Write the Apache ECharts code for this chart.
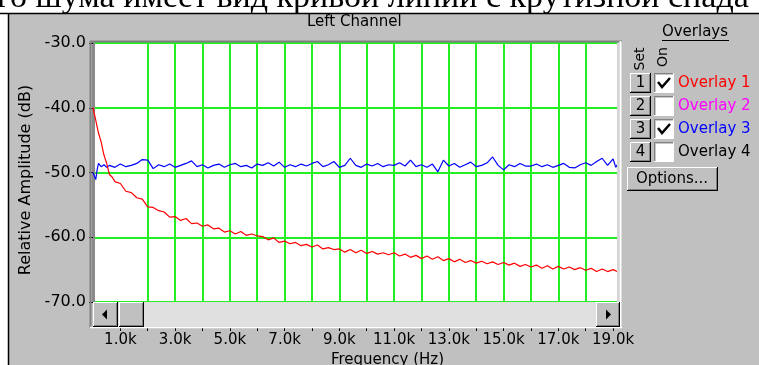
<!DOCTYPE html>
<html><head><meta charset="utf-8">
<script src="https://cdn.jsdelivr.net/npm/echarts@6/dist/echarts.min.js"></script>
<style>html,body{margin:0;padding:0;background:#fff}#c{width:759px;height:365px}</style>
</head><body><div id="c"></div>
<script>
// ---------- data ----------
const xLabelValues = [1, 3, 5, 7, 9, 11, 13, 15, 17, 19];
const xLabelTexts = ['1.0k', '3.0k', '5.0k', '7.0k', '9.0k', '11.0k', '13.0k', '15.0k', '17.0k', '19.0k'];
const xTickValues = [1, 2, 3, 4, 5, 6, 7, 8, 9, 10, 11, 12, 13, 14, 15, 16, 17, 18, 19];
const yTickValues = [-70, -60, -50, -40, -30];

const seriesNames = ['Overlay 1', 'Overlay 3'];
// Overlay 1 (red): [frequency kHz, dB]
const overlay1 = [
  [0, -40.0], [0.1, -41.9], [0.2, -43.9], [0.3, -45.3], [0.4, -47.3], [0.5, -48.6], [0.6, -50.3], [0.7, -50.7], [0.8, -51.4],
  [1.0, -51.7], [1.2, -52.9], [1.4, -53.1], [1.6, -53.9], [1.8, -54.1], [2.0, -55.3], [2.2, -55.4], [2.4, -55.9], [2.6, -56.1], [2.8, -56.9],
  [3.0, -56.8], [3.2, -57.4], [3.4, -57.1], [3.6, -57.9], [3.8, -57.8], [4.0, -58.3], [4.2, -58.1], [4.4, -58.7], [4.6, -58.6], [4.8, -59.2],
  [5.0, -59.0], [5.2, -59.5], [5.4, -59.1], [5.6, -59.7], [5.8, -59.5], [6.0, -59.8], [6.2, -59.9], [6.4, -60.4], [6.6, -60.1], [6.8, -60.8],
  [7.0, -60.6], [7.2, -61.0], [7.4, -60.8], [7.6, -61.3], [7.8, -61.1], [8.0, -61.5], [8.2, -61.2], [8.4, -61.8], [8.6, -61.6], [8.8, -61.9],
  [9.0, -61.8], [9.2, -62.3], [9.4, -61.9], [9.6, -62.4], [9.8, -62.0], [10.0, -62.5], [10.2, -62.2], [10.4, -62.6], [10.6, -62.4], [10.8, -62.7],
  [11.0, -62.4], [11.2, -62.9], [11.4, -62.6], [11.6, -63.1], [11.8, -62.8], [12.0, -63.3], [12.2, -62.9], [12.4, -63.4], [12.6, -63.0], [12.8, -63.6],
  [13.0, -63.3], [13.2, -63.8], [13.4, -63.4], [13.6, -63.9], [13.8, -63.6], [14.0, -64.0], [14.2, -63.7], [14.4, -64.1], [14.6, -63.8], [14.8, -64.2],
  [15.0, -63.9], [15.2, -64.3], [15.4, -64.0], [15.6, -64.5], [15.8, -64.2], [16.0, -64.6], [16.2, -64.3], [16.4, -64.8], [16.6, -64.4], [16.8, -64.9],
  [17.0, -64.5], [17.2, -64.9], [17.4, -64.6], [17.6, -65.0], [17.8, -64.7], [18.0, -65.1], [18.2, -64.8], [18.4, -65.3], [18.6, -64.9], [18.8, -65.3],
  [19.0, -65.0], [19.15, -65.3]
];
// Overlay 3 (blue): [frequency kHz, dB]
const overlay3 = [
  [0, -50.0], [0.05, -50.2], [0.1, -51.1], [0.15, -49.6], [0.2, -48.6], [0.3, -49.1], [0.4, -48.8], [0.5, -49.2],
  [0.6, -48.9], [0.8, -49.2], [1.0, -48.7], [1.2, -49.1], [1.4, -48.9], [1.6, -48.6], [1.8, -48.0], [2.0, -48.1], [2.2, -49.4], [2.4, -48.8],
  [2.6, -49.1], [2.8, -48.7], [3.0, -49.2], [3.2, -48.9], [3.4, -48.6], [3.6, -48.2], [3.8, -49.1], [4.0, -48.8], [4.2, -49.3], [4.4, -48.9],
  [4.6, -48.7], [4.8, -49.2], [5.0, -48.8], [5.2, -48.6], [5.4, -49.1], [5.6, -48.9], [5.8, -49.3], [6.0, -48.7], [6.2, -48.9], [6.4, -48.5],
  [6.6, -49.0], [6.8, -48.4], [7.0, -49.2], [7.2, -48.8], [7.4, -49.1], [7.6, -48.7], [7.8, -49.0], [8.0, -48.6], [8.2, -48.3], [8.4, -49.1],
  [8.6, -48.8], [8.8, -48.3], [9.0, -49.2], [9.2, -48.9], [9.4, -47.8], [9.6, -48.9], [9.8, -49.2], [10.0, -48.7], [10.2, -49.0], [10.4, -48.6],
  [10.6, -49.1], [10.8, -48.8], [11.0, -48.9], [11.2, -48.5], [11.4, -49.0], [11.6, -48.1], [11.8, -49.1], [12.0, -48.8], [12.2, -49.2], [12.4, -48.7],
  [12.6, -49.9], [12.8, -48.1], [13.0, -49.0], [13.2, -48.6], [13.4, -49.2], [13.6, -48.8], [13.8, -48.4], [14.0, -49.1], [14.2, -48.9], [14.4, -48.5],
  [14.6, -47.6], [14.8, -48.9], [15.0, -49.6], [15.2, -48.8], [15.4, -49.1], [15.6, -48.6], [15.8, -49.0], [16.0, -49.0], [16.2, -48.7], [16.4, -49.1],
  [16.6, -48.8], [16.8, -49.2], [17.0, -48.9], [17.2, -48.6], [17.4, -49.2], [17.6, -49.3], [17.8, -48.8], [18.0, -48.5], [18.2, -48.9], [18.4, -48.3],
  [18.6, -47.8], [18.8, -48.9], [19.0, -47.9], [19.1, -49.2], [19.15, -48.8]
];

const overlayNames = ['Overlay 1', 'Overlay 2', 'Overlay 3', 'Overlay 4'];
const overlayColors = ['#ff0000', '#ff00ff', '#0000ff', '#000000'];
const overlayOn = [true, false, true, false];

// ---------- helpers for the surrounding UI ----------
const FONT = '"DejaVu Sans", sans-serif';
const G = [];
function rect(x, y, w, h, fill, z) { G.push({ type: 'rect', silent: true, z: z, shape: { x: x, y: y, width: w, height: h }, style: { fill: fill } }); }
function line(x1, y1, x2, y2, stroke, z, lw) { G.push({ type: 'line', silent: true, z: z, shape: { x1: x1, y1: y1, x2: x2, y2: y2 }, style: { stroke: stroke, lineWidth: lw || 1 } }); }
function text(x, y, t, opt) {
  opt = opt || {};
  G.push({ type: 'text', silent: true, z: opt.z || 200, x: x, y: y, rotation: opt.rot || 0,
    style: { text: t, x: 0, y: 0, fill: opt.fill || '#000', font: (opt.size || 15) + 'px ' + (opt.family || FONT),
      align: opt.align || 'center', verticalAlign: opt.va || 'middle', textAlign: opt.align || 'center', textVerticalAlign: opt.va || 'middle' } });
}
function button(x, y, w, h, z) {
  rect(x, y, w, h, '#c0c0c0', z);
  line(x, y + 0.5, x + w - 1, y + 0.5, '#ffffff', z + 1);
  line(x + 0.5, y, x + 0.5, y + h - 1, '#ffffff', z + 1);
  line(x + 1, y + h - 1.5, x + w - 1, y + h - 1.5, '#808080', z + 1);
  line(x + w - 1.5, y + 1, x + w - 1.5, y + h - 1, '#808080', z + 1);
  line(x, y + h - 0.5, x + w, y + h - 0.5, '#000000', z + 1);
  line(x + w - 0.5, y, x + w - 0.5, y + h, '#000000', z + 1);
}

// window background & frame
rect(9, 14, 750, 351, '#c0c0c0', -100);
line(0, 13.5, 759, 13.5, '#000', -90, 1.5);
line(8.5, 13, 8.5, 365, '#000', -90, 1.5);
text(-3, -1.5, 'го шума имеет вид кривой линии с крутизной спада', { size: 34, family: '"Liberation Serif", serif', align: 'left', z: -80 });
// plot background and sunken frame
rect(93, 43, 525, 259, '#ffffff', -50);
line(90, 41.5, 622, 41.5, '#808080', 90, 2);
line(90.5, 41, 90.5, 328, '#808080', 90, 2);
line(620.5, 41, 620.5, 328, '#ffffff', 90, 2);
line(618, 42, 618, 302, '#d4d4d4', 89, 2);
line(90, 327.5, 622, 327.5, '#ffffff', 90, 1.5);
// scrollbar
rect(93, 302, 527, 25, '#e0e0e0', 100);
button(93, 302, 25, 25, 110);
G.push({ type: 'polygon', silent: true, z: 120, shape: { points: [[102, 314.5], [107, 309.5], [107, 319.5]] }, style: { fill: '#000' } });
button(119, 302, 25, 25, 110);
button(596, 302, 24, 25, 110);
G.push({ type: 'polygon', silent: true, z: 120, shape: { points: [[611, 314.5], [606, 309.5], [606, 319.5]] }, style: { fill: '#000' } });

// overlays panel
text(695, 32, 'Overlays', { size: 15 });
line(662, 40.5, 729, 40.5, '#000', 200, 1);
text(640, 59, 'Set', { size: 14, rot: Math.PI / 2 });
text(663, 57, 'On', { size: 14, rot: Math.PI / 2 });
const rowY = [83, 106, 129, 152];
for (let i = 0; i < 4; i++) {
  const cy = rowY[i];
  button(630, cy - 10, 21, 20, 150);
  text(640.5, cy, String(i + 1), { size: 15, z: 170 });
  // checkbox
  const bx = 654, by = cy - 10;
  rect(bx, by, 20, 20, '#ffffff', 150);
  line(bx, by + 0.5, bx + 20, by + 0.5, '#808080', 151);
  line(bx + 0.5, by, bx + 0.5, by + 20, '#808080', 151);
  line(bx + 1, by + 1.5, bx + 19, by + 1.5, '#c8c8c8', 151);
  line(bx + 1.5, by + 1, bx + 1.5, by + 19, '#c8c8c8', 151);
  line(bx, by + 19.5, bx + 20, by + 19.5, '#ffffff', 151);
  line(bx + 19.5, by, bx + 19.5, by + 20, '#ffffff', 151);
  if (overlayOn[i]) {
    G.push({ type: 'polyline', silent: true, z: 160, shape: { points: [[bx + 4, by + 9], [bx + 8, by + 14], [bx + 16, by + 5]] }, style: { stroke: '#000', lineWidth: 2.5, fill: null } });
  }
  text(678, cy, overlayNames[i], { size: 15, align: 'left', fill: overlayColors[i] });
}
button(627, 167, 91, 24, 150);
text(672, 179, 'Options...', { size: 15, z: 170 });

// ---------- chart ----------
const chart = echarts.init(document.getElementById('c'), null, { renderer: 'canvas' });
const option = {
  backgroundColor: '#ffffff',
  animation: false,
  title: {
    text: 'Left Channel', left: 307, top: 15, padding: 0,
    textStyle: { fontFamily: FONT, fontSize: 15, fontWeight: 'normal', color: '#000' }
  },
  grid: { left: 93, top: 43, width: 525, height: 259, containLabel: false, outerBoundsMode: 'none' },
  xAxis: {
    type: 'value', min: 0, max: 19.18, interval: 1, offset: 25,
    axisLine: { show: false },
    axisTick: { show: true, length: 4, lineStyle: { color: '#000', width: 1 }, customValues: xTickValues },
    axisLabel: {
      customValues: xLabelValues, margin: 6, color: '#000', fontFamily: FONT, fontSize: 15,
      formatter: function (v) { const i = xLabelValues.indexOf(Math.round(v * 100) / 100); return i >= 0 ? xLabelTexts[i] : ''; }
    },
    splitLine: { show: true, showMinLine: false, showMaxLine: false, lineStyle: { color: '#22ee22', width: 2 } },
    name: 'Frequency (Hz)', nameLocation: 'middle', nameGap: 21,
    nameTextStyle: { fontFamily: FONT, fontSize: 15, color: '#000', padding: [0, 0, 0, 64] }
  },
  yAxis: {
    type: 'value', min: -70, max: -30, interval: 10,
    axisLine: { show: true, lineStyle: { color: '#8a8a8a', width: 3 } },
    axisTick: { show: true, length: 4, lineStyle: { color: '#000', width: 1 } },
    axisLabel: { margin: 7, color: '#000', fontFamily: FONT, fontSize: 16, formatter: function (v) { return v.toFixed(1); } },
    splitLine: { show: true, lineStyle: { color: '#22ee22', width: 2 } },
    name: 'Relative Amplitude (dB)', nameLocation: 'middle', nameGap: 57, nameRotate: 90,
    nameTextStyle: { fontFamily: FONT, fontSize: 16, color: '#000', padding: [0, 15, 0, 0] }
  },
  series: [
    { type: 'line', name: seriesNames[1], data: overlay3, showSymbol: false, clip: true, z: 3,
      lineStyle: { color: '#0000ff', width: 1.2 }, itemStyle: { color: '#0000ff' } },
    { type: 'line', name: seriesNames[0], data: overlay1, showSymbol: false, clip: true, z: 4,
      lineStyle: { color: '#ff0000', width: 1.2 }, itemStyle: { color: '#ff0000' } }
  ],
  graphic: { elements: G }
};
chart.setOption(option);
</script>
</body></html>
